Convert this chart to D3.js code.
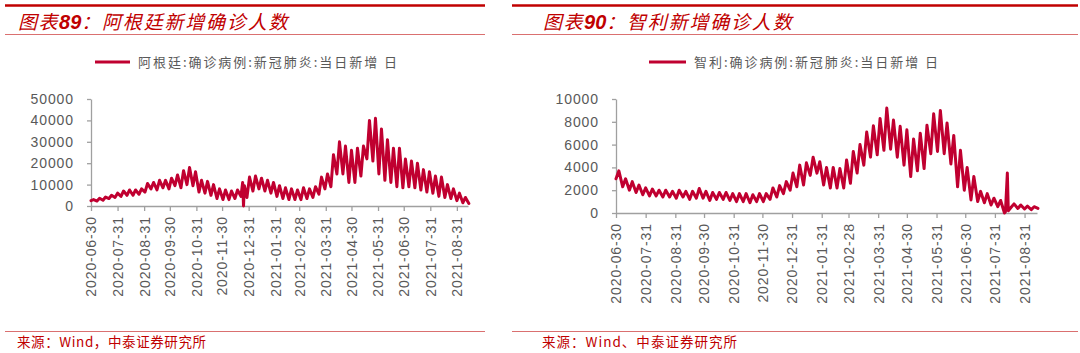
<!DOCTYPE html>
<html><head><meta charset="utf-8">
<script src="https://cdn.jsdelivr.net/npm/d3@7/dist/d3.min.js"></script>
<style>body{margin:0;background:#fff}svg{display:block}</style>
</head><body>
<svg id="c" width="1080" height="353"></svg>
<script>
// ---- data ----
const tickDates = ["2020-06-30","2020-07-31","2020-08-31","2020-09-30","2020-10-31","2020-11-30","2020-12-31","2021-01-31","2021-02-28","2021-03-31","2021-04-30","2021-05-31","2021-06-30","2021-07-31","2021-08-31"];
const startDate = "2020-06-30";
const endDate = "2021-09-13";
// weekly low (start of each week) and weekly high (3 days later)
const argTroughs = [2500,2300,2700,3500,4000,4500,5000,5000,5500,6500,8000,7500,8500,8000,9500,8500,10000,9500,6500,6000,5000,3500,3000,3000,3500,4500,4000,7000,8000,7000,6000,4500,3500,3000,3000,3000,3500,4000,5500,8000,9000,15000,15000,11000,11000,14000,22000,21000,15000,12000,11000,9000,8500,9000,8500,7500,6500,6000,4500,4000,3500,2500,1500,1200];
const argPeaks = [3000,3600,4200,5000,6000,7000,7500,7500,8000,10500,11000,12000,12000,13000,14500,16500,18000,16000,12000,11500,10000,8000,7500,7000,7500,11000,13500,14000,13000,12000,11000,9500,8500,8000,7500,8500,8000,9000,13500,15000,24000,30000,28000,26000,27000,28000,40000,41000,36000,31000,27000,27000,22000,21000,20000,17000,16000,14000,13500,10000,8000,6000,4000];
const argSpecialDates = ["2020-12-24","2020-12-25","2020-12-26"];
const argSpecialValues = [11000,0,9500];
const chlTroughs = [3000,2300,2000,1800,1600,1500,1500,1400,1400,1300,1400,1200,1300,1300,1100,1200,1200,1100,1000,1000,900,1000,1000,1200,1400,1700,2000,2300,2450,3300,3500,2450,2200,2200,2200,2600,3500,4200,4900,5100,5500,5600,4900,4200,3200,3700,3900,5200,5400,5200,4300,2300,2000,1150,1000,900,700,550,0,500,400,350,300,400];
const chlPeaks = [3700,3000,2750,2450,2200,2100,2000,2000,1900,2000,1900,1900,2150,1900,1800,1800,1800,1700,1700,1700,1600,1700,1700,2200,2400,2750,3500,4200,4400,4900,4500,4000,4000,3900,4650,5400,6000,7100,7650,8300,9200,8150,7600,7300,6500,7000,7700,8700,9000,7900,6800,5500,4000,3200,1900,1700,1300,1100,3500,800,700,600,550];
const chlSpecialDates = ["2021-08-11","2021-08-14"];
const chlSpecialValues = [100,200];
const argYTicks = [0,10000,20000,30000,40000,50000];
const chlYTicks = [0,2000,4000,6000,8000,10000];

const RED = "#C00000", LINE = "#C00030", GREY = "#595959", AXIS = "#A0A0A0";
const parse = d3.timeParse("%Y-%m-%d");
const fmt = d3.timeFormat("%Y-%m-%d");
const svg = d3.select("#c");
svg.append("rect").attr("width",1080).attr("height",353).attr("fill","#fff");

function buildSeries(troughs, peaks, sDates, sVals){
  const m = new Map();
  const s = parse(startDate);
  troughs.forEach((v,i)=>{ m.set(+d3.timeDay.offset(s,7*i), v); });
  peaks.forEach((v,i)=>{ m.set(+d3.timeDay.offset(s,7*i+3), v); });
  sDates.forEach((d,i)=>{ m.set(+parse(d), sVals[i]); });
  return Array.from(m, ([k,v])=>({date:new Date(k), value:v})).sort((a,b)=>a.date-b.date);
}

function panel(o){
  const g = svg.append("g");
  // header / footer rules
  g.append("line").attr("x1",o.rx1).attr("x2",o.rx2).attr("y1",5.5).attr("y2",5.5).attr("stroke",RED).attr("stroke-width",2.5);
  g.append("line").attr("x1",o.rx1).attr("x2",o.rx2).attr("y1",34.5).attr("y2",34.5).attr("stroke","#DA7070").attr("stroke-width",1);
  g.append("line").attr("x1",o.rx1).attr("x2",o.rx2).attr("y1",331.5).attr("y2",331.5).attr("stroke","#DA7070").attr("stroke-width",1);
  // title
  const t = g.append("text").attr("x",o.tx).attr("y",29).attr("fill",RED)
    .style("font-style","italic").style("font-size","19px");
  t.append("tspan").text("图表").style("font-family","'Noto Sans CJK SC'").style("letter-spacing","1.5px");
  t.append("tspan").text(o.num).style("font-family","'Liberation Sans'").style("font-weight","bold").style("font-size","20px");
  t.append("tspan").text("：" + o.title).style("font-family","'Noto Sans CJK SC'").style("letter-spacing","1.8px");
  // source
  g.append("text").attr("x",o.tx-1).attr("y",347).attr("fill",RED)
    .attr("textLength",o.sw).attr("lengthAdjust","spacing")
    .style("font-family","'Noto Sans CJK SC'").style("font-size","13.5px").text(o.source);
  // legend
  g.append("line").attr("x1",o.lx1).attr("x2",o.lx2).attr("y1",62).attr("y2",62).attr("stroke",LINE).attr("stroke-width",3);
  g.append("text").attr("x",o.lx2+8).attr("y",66.5).attr("fill",GREY)
    .attr("textLength",o.lw).attr("lengthAdjust","spacing")
    .style("font-family","'Noto Sans CJK SC'").style("font-size","13px").text(o.legend);
  // scales
  const x = d3.scaleTime().domain([parse(startDate),parse(endDate)]).range([o.x0,o.x1]);
  const y = d3.scaleLinear().domain([0,o.yTicks[o.yTicks.length-1]]).range([o.y0,o.y1]);
  // x axis
  const xa = g.append("g").attr("transform",`translate(0,${o.y0})`)
    .call(d3.axisBottom(x).tickValues(tickDates.map(parse)).tickFormat(fmt).tickSize(5).tickSizeOuter(0));
  xa.select(".domain").attr("stroke",AXIS).attr("stroke-width",1.3);
  xa.selectAll(".tick line").attr("stroke",AXIS).attr("stroke-width",1.3);
  xa.selectAll(".tick text").attr("transform","rotate(-90)").attr("x",-10).attr("y",0).attr("dy","0.35em")
    .style("text-anchor","end").style("font-family","'Liberation Sans'").style("font-size","14px")
    .style("letter-spacing","0.9px").attr("fill",GREY);
  // y axis
  const ya = g.append("g").attr("transform",`translate(${o.x0},0)`)
    .call(d3.axisLeft(y).tickValues(o.yTicks).tickFormat(d3.format("d")).tickSize(4).tickPadding(13).tickSizeOuter(0));
  ya.select(".domain").attr("stroke",AXIS).attr("stroke-width",1.3);
  ya.selectAll(".tick line").attr("stroke",AXIS).attr("stroke-width",1.3);
  ya.selectAll(".tick text").style("font-family","'Liberation Sans'").style("font-size","14px")
    .style("letter-spacing","0.9px").attr("fill",GREY);
  // line
  const line = d3.line().x(d=>x(d.date)).y(d=>y(d.value));
  g.append("path").datum(o.data).attr("d",line).attr("fill","none").attr("stroke",LINE)
    .attr("stroke-width",3).attr("stroke-linejoin","round").attr("stroke-linecap","round");
}

panel({rx1:5, rx2:485, tx:18, num:"89", title:"阿根廷新增确诊人数",
  source:"来源：Wind，中泰证券研究所", sw:189, lx1:95, lx2:130, lw:259,
  legend:"阿根廷:确诊病例:新冠肺炎:当日新增 日",
  x0:91, x1:468, y0:206, y1:99, yTicks:argYTicks,
  data: buildSeries(argTroughs,argPeaks,argSpecialDates,argSpecialValues)});
panel({rx1:512, rx2:1078, tx:543, num:"90", title:"智利新增确诊人数",
  source:"来源：Wind、中泰证券研究所", sw:195, lx1:649, lx2:686, lw:244,
  legend:"智利:确诊病例:新冠肺炎:当日新增 日",
  x0:616, x1:1037, y0:213, y1:99, yTicks:chlYTicks,
  data: buildSeries(chlTroughs,chlPeaks,chlSpecialDates,chlSpecialValues)});
</script>
</body></html>
